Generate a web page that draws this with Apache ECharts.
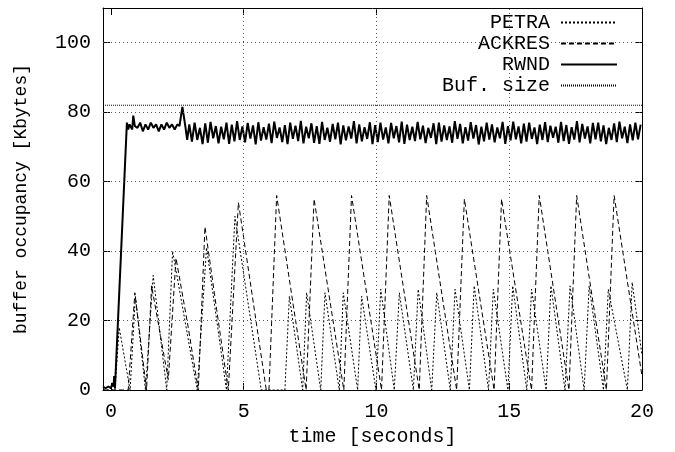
<!DOCTYPE html>
<html>
<head>
<meta charset="utf-8">
<script src="https://cdn.jsdelivr.net/npm/echarts@6/dist/echarts.min.js"></script>
<style>
  html, body { margin: 0; padding: 0; background: #fff; }
  #chart { width: 675px; height: 452px; }
</style>
</head>
<body>
<div id="chart"></div>
<script>
const xTicks = [0, 5, 10, 15, 20];
const yTicks = [0, 20, 40, 60, 80, 100];
const gridX = [5, 10, 15];
const gridY = [20, 40, 60, 80, 100];
const bufSize = 82;

// PETRA (dotted)
const petraT = [-0.3, 0.15, 0.31, 0.72, 0.92, 1.30, 1.59, 2.10, 2.32, 3.25, 3.60, 4.35, 4.67, 5.66, 6.55,
  6.72, 7.22, 7.37, 7.90, 8.06, 8.60, 8.75, 9.29, 9.44, 9.98, 10.16, 10.67, 10.86, 11.39, 11.57, 12.08,
  12.27, 12.78, 12.96, 13.50, 13.68, 14.22, 14.40, 14.95, 15.13, 15.66, 15.84, 16.39, 16.57, 17.10,
  17.29, 17.82, 18.01, 18.55, 18.73, 19.45, 19.63, 20.0];
const petraV = [0, 0, 18, 0, 27, 0, 33, 0, 40, 0, 41, 0, 50, 0, 0,
  27, 0, 28, 0, 28, 0, 28, 0, 27, 0, 29, 0, 28, 0, 29, 0,
  28, 0, 29, 0, 30, 0, 29, 0, 30, 0, 29, 0, 30, 0,
  30, 0, 30, 0, 29, 0, 31, 10];

// ACKRES (dashed)
const ackresT = [-0.3, 0.65, 0.90, 1.34, 1.53, 2.16, 2.45, 2.91, 3.29, 3.54, 4.04, 4.42, 4.80, 5.85, 5.95,
  6.24, 7.35, 7.65, 8.77, 9.06, 10.19, 10.48, 11.61, 11.89, 13.02, 13.31, 14.43, 14.71, 15.84, 16.13,
  17.25, 17.54, 18.66, 18.95, 20.0];
const ackresV = [0, 0, 28, 0, 30, 3, 38, 18, 0, 47, 20, 0, 54, 0, 0,
  56, 0, 55, 0, 56, 0, 56, 0, 56, 0, 55, 0, 55, 0, 56,
  0, 56, 0, 56, 4];

// RWND (solid): start-up phase
const rwndT = [-0.3, -0.2, -0.1, 0.0, 0.05, 0.1, 0.12, 0.15, 0.6, 0.65, 0.7, 0.8, 0.84, 0.9, 1.0, 1.1,
  1.2, 1.3, 1.4, 1.5, 1.6, 1.7, 1.8, 1.9, 2.0, 2.1, 2.2, 2.3, 2.4, 2.5, 2.58, 2.69, 2.8, 2.87];
const rwndV = [1, 0.5, 1, 0.5, 2, 1, 4, 0.5, 77, 75, 76.5, 75, 79, 76, 75.5, 77,
  74.5, 76.5, 75, 77, 75.5, 76.5, 74.5, 76.5, 75, 77, 75.5, 76.5, 75, 76.5, 76, 81.5, 76, 72];
// RWND steady phase, sampled every 0.1 s from 2.95 s
const rwndSteadyStart = 2.95;
const rwndSteadyStep = 0.1;
const rwndSteadyV = [
  76.5, 71.5, 77.0, 72.0, 75.5, 70.8, 76.8, 71.2, 77.2, 72.5,
  76.0, 71.0, 75.8, 72.2, 77.0, 70.9, 76.4, 71.6, 77.4, 72.0,
  75.9, 71.3, 76.9, 72.4, 76.2, 70.7, 77.1, 71.8, 75.7, 72.1,
  76.7, 71.1, 77.3, 72.6, 75.6, 71.4, 76.3, 70.8, 77.0, 72.3,
  76.1, 71.7, 77.5, 71.0, 75.8, 72.5, 76.8, 71.2, 76.0, 70.9,
  77.2, 72.0, 75.5, 71.5, 76.6, 72.2, 77.0, 70.7, 76.2, 71.9,
  75.9, 72.4, 77.4, 71.0, 76.5, 71.6, 75.7, 72.3, 77.1, 70.8,
  76.3, 71.4, 77.0, 72.1, 75.6, 71.0, 76.9, 72.5, 76.0, 71.3,
  77.3, 70.9, 76.4, 72.0, 75.8, 71.7, 77.2, 72.2, 76.1, 71.1,
  75.5, 72.6, 76.8, 70.8, 77.0, 71.5, 76.2, 72.0, 75.9, 71.2,
  77.4, 72.3, 76.6, 71.0, 75.7, 71.8, 77.1, 72.4, 76.3, 70.7,
  75.8, 71.6, 77.0, 72.1, 76.5, 71.3, 75.6, 72.5, 77.2, 70.9,
  76.0, 71.9, 77.3, 72.2, 75.9, 71.0, 76.7, 71.5, 77.0, 72.3,
  75.6, 70.8, 76.4, 72.0, 77.1, 71.4, 76.1, 72.6, 75.8, 71.2,
  77.2, 71.7, 76.3, 70.9, 75.7, 72.1, 77.4, 71.3, 76.6, 72.4,
  75.9, 71.0, 76.9, 72.2, 77.0, 71.6, 76.2, 70.8, 75.5, 72.0,
  76.8, 71.4, 77.3, 72.5, 75.8, 71.1, 76.5, 71.9, 77.0, 72.2,
  76.4
];

const FONT = "Liberation Mono";

const pairs = (t, v) => t.map((x, i) => [x, v[i]]);
const rwndData = pairs(rwndT, rwndV).concat(
  rwndSteadyV.map((v, i) => [+(rwndSteadyStart + i * rwndSteadyStep).toFixed(2), v])
);

const chart = echarts.init(document.getElementById("chart"));

const baseX = {
  type: "value",
  min: -0.3,
  max: 20,
  axisLine: { show: true, onZero: false, lineStyle: { color: "#000", width: 1 } },
  axisTick: { show: true, inside: true, length: 7, customValues: xTicks, lineStyle: { color: "#000" } },
  splitLine: { show: false },
};
const baseY = {
  type: "value",
  min: 0,
  max: 110,
  axisLine: { show: true, onZero: false, lineStyle: { color: "#000", width: 1 } },
  axisTick: { show: true, inside: true, length: 7, customValues: yTicks, lineStyle: { color: "#000" } },
  splitLine: { show: false },
};

chart.setOption({
  animation: false,
  backgroundColor: "#fff",
  grid: { left: 103, right: 33, top: 8, bottom: 62, containLabel: false, outerBoundsMode: "none" },
  legend: {
    data: ["PETRA", "ACKRES", "RWND", "Buf. size"],
    orient: "vertical",
    align: "right",
    right: 47,
    top: 9,
    padding: [3, 10, 2, 4],
    itemWidth: 56,
    itemHeight: 10,
    itemGap: 0,
    backgroundColor: "#fff",
    itemStyle: { opacity: 0 },
    textStyle: { fontFamily: FONT, fontSize: 20, color: "#000", lineHeight: 21, padding: [0, 6, 0, 0] },
  },
  xAxis: [
    Object.assign({}, baseX, {
      position: "bottom",
      name: "time [seconds]",
      nameLocation: "middle",
      nameGap: 37,
      nameTextStyle: { fontFamily: FONT, fontSize: 20, color: "#000" },
      axisLabel: { customValues: xTicks, fontFamily: FONT, fontSize: 20, color: "#000", margin: 12 },
    }),
    Object.assign({}, baseX, { position: "top", axisLabel: { show: false } }),
  ],
  yAxis: [
    Object.assign({}, baseY, {
      position: "left",
      name: "buffer occupancy [Kbytes]",
      nameLocation: "middle",
      nameGap: 73,
      nameTextStyle: { fontFamily: FONT, fontSize: 18, color: "#000" },
      axisLabel: { customValues: yTicks, fontFamily: FONT, fontSize: 20, color: "#000", margin: 12 },
    }),
    Object.assign({}, baseY, { position: "right", axisLabel: { show: false } }),
  ],
  series: [
    {
      name: "PETRA",
      type: "line",
      data: pairs(petraT, petraV),
      symbol: "none",
      lineStyle: { color: "#000", width: 1, type: [2, 2] },
      itemStyle: { color: "#000" },
      markLine: {
        silent: true,
        symbol: "none",
        label: { show: false },
        lineStyle: { color: "#555", width: 1, type: [1, 3] },
        data: gridX.map((x) => ({ xAxis: x })).concat(gridY.map((y) => ({ yAxis: y }))),
      },
    },
    {
      name: "ACKRES",
      type: "line",
      data: pairs(ackresT, ackresV),
      symbol: "none",
      lineStyle: { color: "#000", width: 1, type: [5, 3] },
      itemStyle: { color: "#000" },
    },
    {
      name: "RWND",
      type: "line",
      data: rwndData,
      symbol: "none",
      sampling: null,
      lineStyle: { color: "#000", width: 2 },
      itemStyle: { color: "#000" },
    },
    {
      name: "Buf. size",
      type: "line",
      data: [[-0.3, bufSize], [20, bufSize]],
      symbol: "none",
      lineStyle: { color: "#000", width: 1, type: [1, 1] },
      itemStyle: { color: "#000" },
    },
  ],
});

window.addEventListener("resize", () => {
  chart.resize();
});
</script>
</body>
</html>
